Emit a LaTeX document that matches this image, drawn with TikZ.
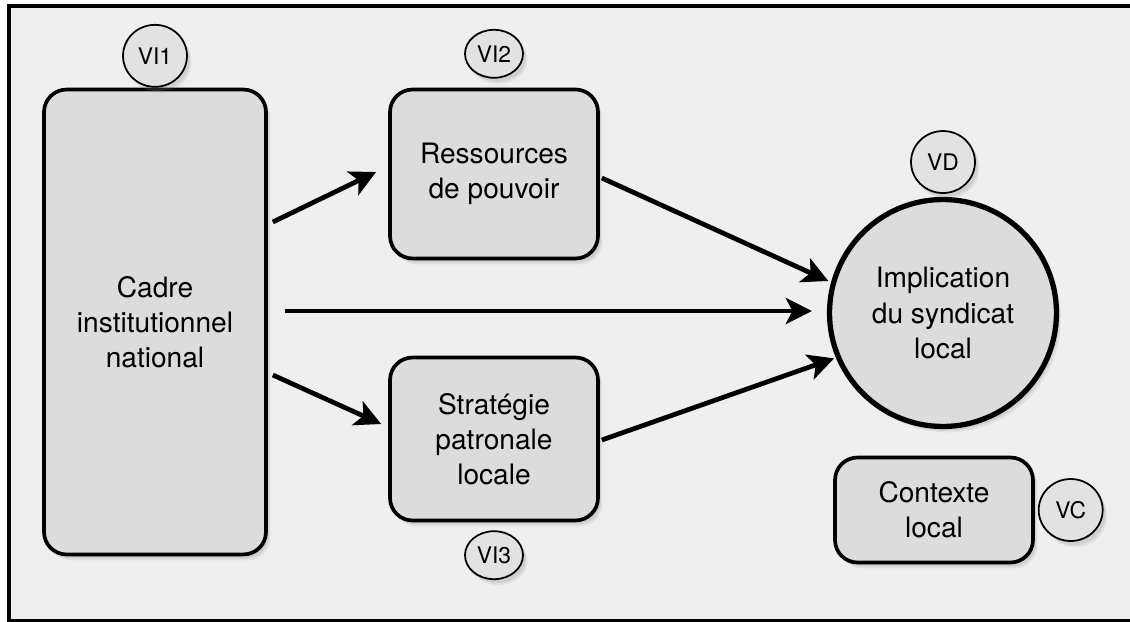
\documentclass[tikz,border=0pt]{standalone}
\usepackage{fontspec}
\setmainfont{TeX Gyre Heros}
\usetikzlibrary{positioning,shadows,shapes.geometric,arrows.meta}
\definecolor{fondgris}{HTML}{EFEFEF}
\definecolor{boitegris}{HTML}{DCDCDC}
\definecolor{taggris}{HTML}{E2E2E2}

\begin{document}
\begin{tikzpicture}[x=0.02cm, y=-0.02cm, ->, >={Stealth[length=0.52cm, width=0.52cm, inset=0.13cm]},
  soft shadow/.style={drop shadow={opacity=0.12, shadow xshift=0.09cm, shadow yshift=-0.12cm},
    drop shadow={opacity=0.18, shadow xshift=0.06cm, shadow yshift=-0.08cm}},
  main node/.style={rectangle, rounded corners=0.45cm, draw, line width=2.1pt, fill=boitegris, align=center, inner sep=0pt, soft shadow},
  tag node/.style={ellipse, draw, line width=1pt, fill=taggris, inner sep=0pt, font=\fontsize{13}{15}\selectfont,
    minimum width=1.28cm, minimum height=1.24cm, soft shadow},
  small tag/.style={tag node, minimum width=1.16cm, minimum height=0.96cm}]
        \tikzstyle{every node}=[font=\fontsize{16}{20}\selectfont]

          % cadre
          \useasboundingbox (0,0) rectangle (1130,622);
          \fill[white] (0,0) rectangle (1130,622);
          \draw[-, line width=2pt, fill=fondgris] (9,6) rectangle (1150,621);

          \node[main node, minimum width=4.44cm, minimum height=9.3cm] (1) at (155,322) {Cadre\\institutionnel\\national};
          \node[main node, minimum width=4.16cm, minimum height=3.38cm] (2) at (494,174) {Ressources\\de pouvoir};
          \node[main node, minimum width=4.16cm, minimum height=3.26cm] (3) at (494,439) {Stratégie\\patronale\\locale};
          \node[main node, circle, line width=3pt, minimum size=4.54cm] (4) at (943,313) {Implication\\du syndicat\\local};
          \node[main node, minimum width=3.96cm, minimum height=2.1cm] (5) at (934,510) {Contexte\\local};

          \node[tag node] (6) [above=0pt of 1] {VI1};
          \node[small tag] (7) [above=0.18cm of 2] {VI2};
          \node[small tag] (8) [below=0.16cm of 3] {VI3};
          \node[tag node] (9) [above=0.06cm of 4] {VD};
          \node[tag node] (10) [right=0.06cm of 5] {VC};

          \path[line width=2.7pt]
            ([shift={(5,-100)}]1.east) edge ([shift={(-12,-2)}]2.west)
            ([shift={(17,-11)}]1.east) edge ([shift={(-15,-2)}]4.west)
            ([shift={(5,53)}]1.east) edge ([shift={(-7,-15)}]3.west)
            ([shift={(2,4)}]2.east) edge ([shift={(-3,0)}]4.164)
            ([shift={(2,1)}]3.east) edge ([shift={(-2,0)}]4.203);

        \end{tikzpicture}
\end{document}
